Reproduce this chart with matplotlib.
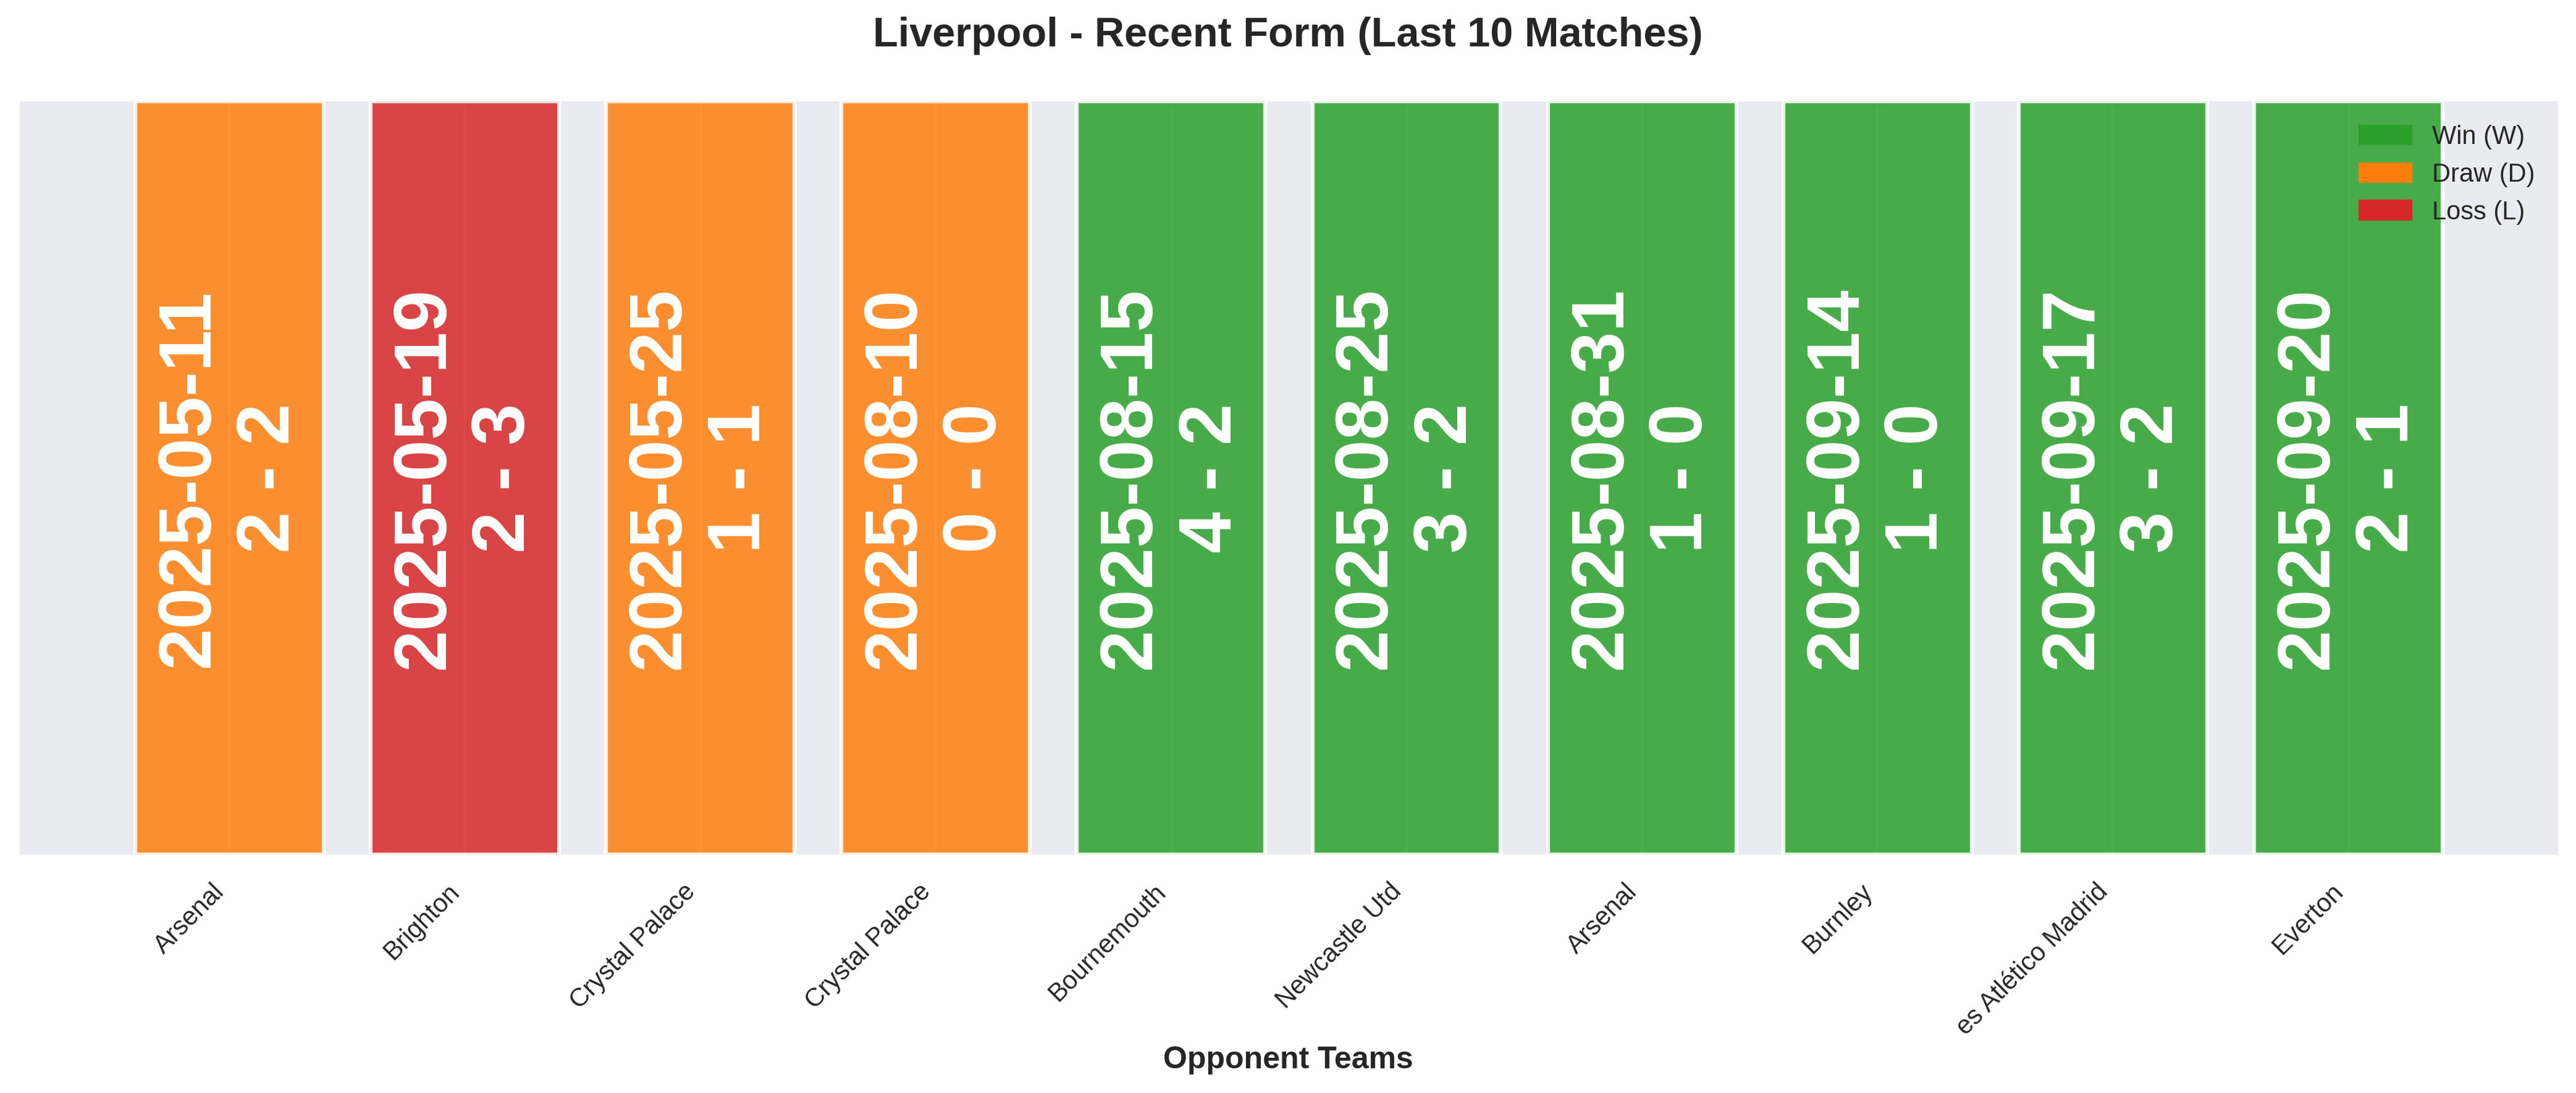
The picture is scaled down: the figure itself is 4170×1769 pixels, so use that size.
import numpy as np
import matplotlib
matplotlib.use("Agg")
import matplotlib.pyplot as plt
import seaborn as sns
from matplotlib.patches import Patch

sns.set_theme(style="darkgrid")
plt.rcParams['font.family'] = ['Liberation Sans', 'DejaVu Sans']

team = 'Liverpool'
opponents = ['Arsenal', 'Brighton', 'Crystal Palace', 'Crystal Palace', 'Bournemouth',
             'Newcastle Utd', 'Arsenal', 'Burnley', 'es Atlético Madrid', 'Everton']
dates = ['2025-05-11', '2025-05-19', '2025-05-25', '2025-08-10', '2025-08-15',
         '2025-08-25', '2025-08-31', '2025-09-14', '2025-09-17', '2025-09-20']
scores = ['2 - 2', '2 - 3', '1 - 1', '0 - 0', '4 - 2',
          '3 - 2', '1 - 0', '1 - 0', '3 - 2', '2 - 1']
results = ['D', 'L', 'D', 'D', 'W', 'W', 'W', 'W', 'W', 'W']

result_colors = {'W': '#2ca02c', 'D': '#ff7f0e', 'L': '#d62728'}
result_names = {'W': 'Win (W)', 'D': 'Draw (D)', 'L': 'Loss (L)'}

fig = plt.figure(figsize=(13.9, 5.897), dpi=300)
ax = fig.add_axes([0.0077, 0.218, 0.9853, 0.689])

x = np.arange(len(opponents))
colors = [result_colors[r] for r in results]
ax.bar(x, [1] * len(x), width=0.8, color=colors, alpha=0.85,
       edgecolor='white', linewidth=1.5)

# date and score written inside each bar
for i, (d, s) in enumerate(zip(dates, scores)):
    ax.text(i, 0.5, f'{d}\n{s}', rotation=90, ha='center', va='center',
            color='white', fontsize=29, fontweight='bold')

ax.set_ylim(0, 1)
ax.set_yticks([])
ax.set_xticks(x)
ax.set_xticklabels(opponents, rotation=45, ha='right', fontsize=10)
for spine in ax.spines.values():
    spine.set_visible(False)

handles = [Patch(color=result_colors[k], label=result_names[k]) for k in ['W', 'D', 'L']]
ax.legend(handles=handles, loc='upper right', frameon=False, fontsize=10)

fig.text(0.5, 0.967, f'{team} - Recent Form (Last 10 Matches)', ha='center', va='center',
         fontsize=16, fontweight='bold', color='#262626')
fig.text(0.5, 0.030, 'Opponent Teams', ha='center', va='center',
         fontsize=12, fontweight='bold', color='#262626')

fig.savefig('out.png', dpi=300)
